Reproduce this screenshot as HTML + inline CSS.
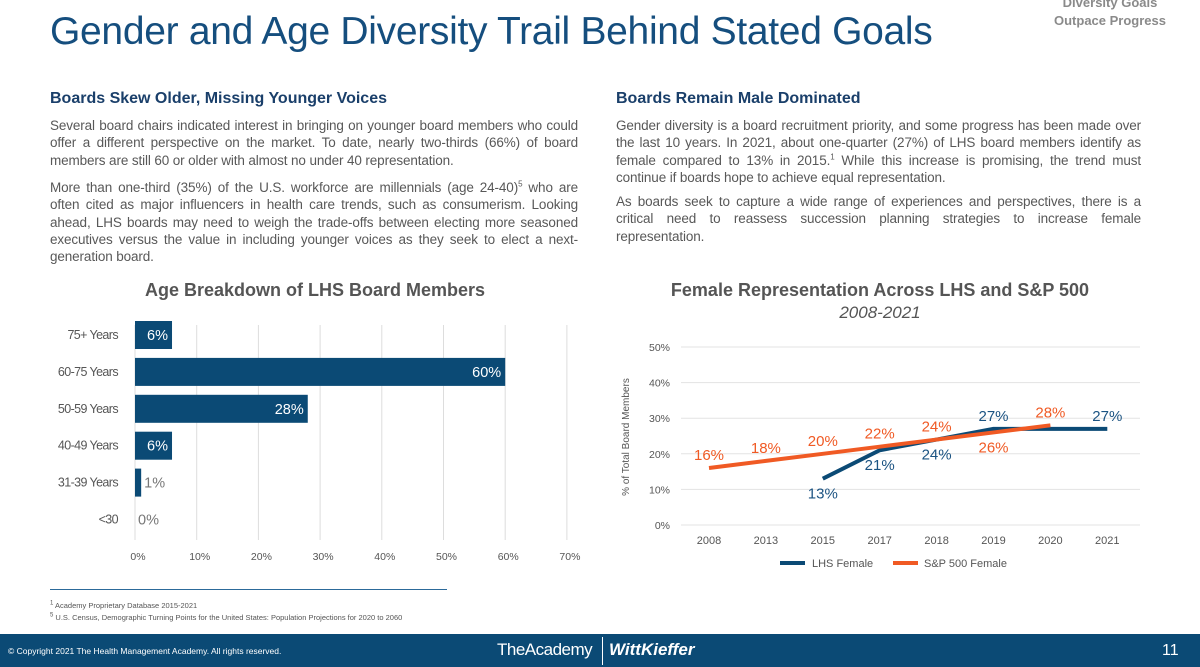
<!DOCTYPE html>
<html><head><meta charset="utf-8">
<style>
body{margin:0;width:1200px;height:667px;overflow:hidden;background:#fff;font-family:"Liberation Sans",sans-serif;position:relative}
.abs{position:absolute}
h1{position:absolute;left:50px;top:10px;margin:0;font-weight:normal;font-size:39px;color:#154e7e;letter-spacing:-0.3px}
h2{position:absolute;margin:0;font-size:16px;font-weight:bold;color:#1a3f6a}
.p{position:absolute;font-size:13.5px;line-height:17.3px;color:#585858;text-align:justify;margin:0;letter-spacing:-0.12px}
sup{line-height:0;font-size:8px}
</style></head><body>
<h1>Gender and Age Diversity Trail Behind Stated Goals</h1>
<div class="abs" style="left:1040px;top:-6px;width:140px;text-align:center;font-size:13px;font-weight:bold;color:#8a8a8a;line-height:18px">Diversity Goals<br>Outpace Progress</div>

<h2 style="left:50px;top:90px">Boards Skew Older, Missing Younger Voices</h2>
<p class="p" style="left:50px;top:117px;width:528px">Several board chairs indicated interest in bringing on younger board members who could offer a different perspective on the market. To date, nearly two-thirds (66%) of board members are still 60 or older with almost no under 40 representation.</p>
<p class="p" style="left:50px;top:179px;width:528px">More than one-third (35%) of the U.S. workforce are millennials (age 24-40)<sup>5</sup> who are often cited as major influencers in health care trends, such as consumerism. Looking ahead, LHS boards may need to weigh the trade-offs between electing more seasoned executives versus the value in including younger voices as they seek to elect a next-generation board.</p>

<h2 style="left:616px;top:90px">Boards Remain Male Dominated</h2>
<p class="p" style="left:616px;top:117px;width:525px">Gender diversity is a board recruitment priority, and some progress has been made over the last 10 years. In 2021, about one-quarter (27%) of LHS board members identify as female compared to 13% in 2015.<sup>1</sup> While this increase is promising, the trend must continue if boards hope to achieve equal representation.</p>
<p class="p" style="left:616px;top:193px;width:525px">As boards seek to capture a wide range of experiences and perspectives, there is a critical need to reassess succession planning strategies to increase female representation.</p>

<svg class="abs" style="left:0;top:0" width="1200" height="667">
<g id="bar"></g>
<g id="line"></g>
</svg>

<div class="abs" style="left:50px;top:589px;width:397px;height:1px;background:#2c6a9a"></div>
<div class="abs" style="left:50px;top:600px;font-size:7.5px;color:#555;line-height:12px"><sup style="font-size:6px">1</sup> Academy Proprietary Database 2015-2021<br><sup style="font-size:6px">5</sup> U.S. Census, Demographic Turning Points for the United States: Population Projections for 2020 to 2060</div>

<div class="abs" style="left:0;top:634px;width:1200px;height:33px;background:#0b4a75;color:#fff">
<div class="abs" style="left:8px;top:12px;font-size:8.5px">© Copyright 2021 The Health Management Academy. All rights reserved.</div>
<div class="abs" style="left:497px;top:6px;font-size:17px;letter-spacing:-0.5px">TheAcademy</div>
<div class="abs" style="left:602px;top:3px;width:1px;height:28px;background:#fff"></div>
<div class="abs" style="left:609px;top:6px;font-size:17px;font-weight:bold;font-style:italic">WittKieffer</div>
<div class="abs" style="left:1162px;top:8px;font-size:16px">11</div>
</div>

<script>
const NS="http://www.w3.org/2000/svg";
function mk(p,t,a,txt){const e=document.createElementNS(NS,t);for(const k in a)e.setAttribute(k,a[k]);if(txt!==undefined)e.textContent=txt;p.appendChild(e);return e;}

// ---- Bar chart data ----
const ageCats=["75+ Years","60-75 Years","50-59 Years","40-49 Years","31-39 Years","<30"];
const ageVals=[6,60,28,6,1,0];
const ageTicks=[0,10,20,30,40,50,60,70];

// ---- Line chart data ----
const years=["2008","2013","2015","2017","2018","2019","2020","2021"];
const lhsVals=[null,null,13,21,24,27,27,27];
const spVals=[16,18,20,22,24,26,28,null];
const yTicks=[0,10,20,30,40,50];

(function(){
const g=document.getElementById('bar');
const x0=135,pxPer=6.17,y0=335,step=36.9,bh=28;
const xs=v=>x0+v*pxPer;
mk(g,'text',{x:315,y:296,'text-anchor':'middle','font-size':18,'font-weight':'bold',fill:'#555'},"Age Breakdown of LHS Board Members");
ageTicks.forEach(t=>{
 const l=mk(g,'line',{x1:xs(t),x2:xs(t),y1:325,y2:540,stroke:'#ddd','stroke-width':1});
 
 const tx=mk(g,'text',{x:xs(t)+3,y:560,'text-anchor':'middle','font-size':10.5,fill:'#555'},t+"%");
 
});
ageCats.forEach((c,i)=>{
 const cy=y0+i*step;
 const lb=mk(g,'text',{x:118,y:cy+4,'text-anchor':'end','font-size':12.5,fill:'#555','letter-spacing':'-0.6'},c);
 
 const v=ageVals[i];
 if(v>0){const r=mk(g,'rect',{x:x0,y:cy-bh/2,width:v*pxPer,height:bh,fill:'#0b4a75'});
 }
 const inside=v>=5;
 const t=mk(g,'text',{x:inside?xs(v)-4:xs(v)+3,y:cy+5,'text-anchor':inside?'end':'start','font-size':14.5,fill:inside?'#fff':'#777'},v+"%");
 
});
})();

(function(){
const g=document.getElementById('line');
const xFor=i=>709+i*56.9, yFor=v=>525-v*3.56;
mk(g,'text',{x:880,y:296,'text-anchor':'middle','font-size':18,'font-weight':'bold',fill:'#555'},"Female Representation Across LHS and S&P 500");
mk(g,'text',{x:880,y:318,'text-anchor':'middle','font-size':17,'font-style':'italic',fill:'#555'},"2008-2021");
yTicks.forEach(t=>{
 const l=mk(g,'line',{x1:681,x2:1140,y1:yFor(t),y2:yFor(t),stroke:'#e3e3e3','stroke-width':1});
 
 const tx=mk(g,'text',{x:670,y:yFor(t)+4,'text-anchor':'end','font-size':10.5,fill:'#555'},t+"%");
 
});
const yt=mk(g,'text',{x:0,y:0,transform:'translate(629,437) rotate(-90)','text-anchor':'middle','font-size':10,fill:'#555'},"% of Total Board Members");

years.forEach((y,i)=>{
 const t=mk(g,'text',{x:xFor(i),y:544,'text-anchor':'middle','font-size':11,fill:'#555'},y);
 
});
function series(vals,color,name){
 let d="";vals.forEach((v,i)=>{if(v!==null)d+=(d?"L":"M")+xFor(i)+","+yFor(v);});
 const p=mk(g,'path',{d:d,fill:'none',stroke:color,'stroke-width':4,'stroke-linejoin':'round'});
 
}
series(lhsVals,'#0b4a75','lhs-female-line');
series(spVals,'#f05a24','sp500-female-line');
const lhsAbove=[false,false,false,false,false,true,false,true];
lhsVals.forEach((v,i)=>{ if(v===null||i===6)return;
 const t=mk(g,'text',{x:xFor(i),y:lhsAbove[i]?yFor(v)-8:yFor(v)+20,'text-anchor':'middle','font-size':15,fill:'#1b5382'},v+"%");
 
});
const spBelow=[false,false,false,false,false,true,false,false];
spVals.forEach((v,i)=>{ if(v===null)return;
 const t=mk(g,'text',{x:xFor(i),y:spBelow[i]?yFor(v)+20:yFor(v)-8,'text-anchor':'middle','font-size':15,fill:'#f05a24'},v+"%");
 
});
const l1=mk(g,'line',{x1:780,x2:805,y1:563,y2:563,stroke:'#0b4a75','stroke-width':4});

const t1=mk(g,'text',{x:812,y:567,'font-size':11,fill:'#555'},"LHS Female");

const l2=mk(g,'line',{x1:893,x2:918,y1:563,y2:563,stroke:'#f05a24','stroke-width':4});

const t2=mk(g,'text',{x:924,y:567,'font-size':11,fill:'#555'},"S&P 500 Female");

})();
</script>
</body></html>
